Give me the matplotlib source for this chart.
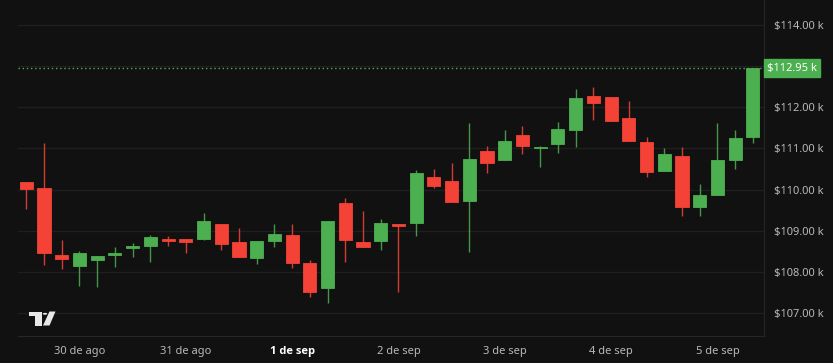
import numpy as np
import pandas as pd
import matplotlib
matplotlib.use("Agg")
import matplotlib.pyplot as plt
from matplotlib.patches import Rectangle, Polygon, Circle
import matplotlib.transforms as mtransforms

# velas de 4h, valores en miles de dólares
opens = [110.19, 110.05, 108.41, 108.15, 108.30, 108.41, 108.59, 108.64, 108.80, 108.80,
         108.80, 109.16, 108.73, 108.34, 108.76, 108.90, 108.21, 107.60, 109.67, 108.73,
         108.74, 109.16, 109.19, 110.31, 110.22, 109.72, 110.94, 110.73, 111.33, 111.01,
         111.11, 111.44, 112.27, 112.25, 111.74, 111.16, 110.46, 110.82, 109.58, 109.87,
         110.72, 111.28]
highs = [110.19, 111.14, 108.77, 108.51, 108.38, 108.60, 108.71, 108.89, 108.87, 108.80,
         109.43, 109.16, 109.07, 108.75, 109.16, 109.16, 108.30, 109.24, 109.79, 109.48,
         109.28, 109.16, 110.48, 110.50, 110.64, 111.62, 111.07, 111.46, 111.54, 111.06,
         111.64, 112.44, 112.49, 112.25, 112.16, 111.27, 111.01, 111.04, 110.14, 111.62,
         111.45, 112.95]
lows = [109.52, 108.17, 108.06, 107.66, 107.64, 108.12, 108.37, 108.23, 108.63, 108.45,
        108.77, 108.53, 108.36, 108.20, 108.61, 108.10, 107.38, 107.24, 108.24, 108.60,
        108.54, 107.51, 108.88, 110.05, 109.70, 108.49, 110.41, 110.73, 110.87, 110.55,
        110.89, 111.04, 111.70, 111.67, 111.18, 110.31, 110.46, 109.36, 109.36, 109.87,
        110.50, 111.14]
closes = [110.01, 108.45, 108.32, 108.47, 108.38, 108.47, 108.63, 108.85, 108.76, 108.73,
          109.24, 108.67, 108.36, 108.75, 108.93, 108.21, 107.51, 109.24, 108.78, 108.60,
          109.19, 109.12, 110.40, 110.09, 109.70, 110.74, 110.64, 111.18, 111.05, 111.04,
          111.48, 112.23, 112.11, 111.67, 111.18, 110.43, 110.87, 109.58, 109.87, 110.72,
          111.26, 112.95]
times = pd.date_range("2025-08-29 12:00", periods=len(opens), freq="4h")
day_labels = ["30 de ago", "31 de ago", "1 de sep", "2 de sep", "3 de sep", "4 de sep", "5 de sep"]
y_ticks = [107, 108, 109, 110, 111, 112, 114]

bg = "#111111"
green = "#4caf50"
red = "#f44336"
grid_c = "#1f1f1f"
text_c = "#b8b8b8"

W, H = 833, 363
fig = plt.figure(figsize=(W / 100, H / 100), dpi=100, facecolor=bg)
ax = fig.add_axes([18 / W, 1 - 336 / H, (764 - 18) / W, 336 / H])
ax.set_facecolor(bg)

x = np.arange(len(opens))
bw = 0.74
for i in x:
    o, h, l, c = opens[i], highs[i], lows[i], closes[i]
    col = green if c >= o else red
    ax.vlines(i, l, h, color=col, lw=1.0, alpha=0.85, zorder=2)
    lo = min(o, c)
    hgt = max(abs(c - o), 0.02)
    ax.add_patch(Rectangle((i - bw / 2, lo), bw, hgt, facecolor=col,
                           edgecolor=col, lw=0.6, zorder=3))

ax.set_xlim(-0.47, 41.63)
ax.set_ylim(106.44, 114.61)

for v in range(107, 115):
    ax.axhline(v, color=grid_c, lw=1, zorder=0)

# línea de precio actual
last = closes[-1]
ax.axhline(last, color=green, lw=1, linestyle=(0, (1, 2)), zorder=1)
trans = mtransforms.blended_transform_factory(ax.transAxes, ax.transData)
ax.text(1.0 + 3 / 746, last, f"${last:.2f} k", transform=trans, ha="left", va="center",
        color="white", fontsize=8, family="Noto Sans",
        bbox=dict(boxstyle="square,pad=0.3", facecolor=green, edgecolor=green))

ax.yaxis.tick_right()
ax.set_yticks(y_ticks)
ax.set_yticklabels([f"${v:.2f} k" for v in y_ticks])
ax.tick_params(axis="y", length=0, pad=7, labelsize=8, labelcolor=text_c)

tick_idx = [i for i, t in enumerate(times) if t.hour == 0]
ax.set_xticks(tick_idx)
ax.set_xticklabels(day_labels)
ax.tick_params(axis="x", length=0, pad=7, labelsize=8, labelcolor=text_c)
for lab in ax.get_xticklabels() + ax.get_yticklabels():
    lab.set_family("Noto Sans")
for lab in ax.get_xticklabels():
    if lab.get_text() == "1 de sep":
        lab.set_family("Open Sans")
        lab.set_fontweight("bold")
        lab.set_color("white")

for s in ["top", "left"]:
    ax.spines[s].set_visible(False)
ax.spines["bottom"].set_color("#262626")
ax.spines["right"].set_color("#262626")

# logo de TradingView
def px(xp, yp):
    return (xp / W, 1 - yp / H)

logo_c = "#e8e8e8"
fig.add_artist(Polygon([px(28.5, 311.5), px(41.5, 311.5), px(41.5, 325.5), px(35, 325.5),
                        px(35, 315.5), px(28.5, 315.5)], closed=True,
                       transform=fig.transFigure, facecolor=logo_c, edgecolor="none"))
fig.add_artist(Circle(px(45, 313.8), 2.2 / W, transform=fig.transFigure,
                      facecolor=logo_c, edgecolor="none"))
fig.add_artist(Polygon([px(49.5, 311.5), px(55.5, 311.5), px(49.5, 325.5), px(43, 325.5)],
                       closed=True, transform=fig.transFigure, facecolor=logo_c,
                       edgecolor="none"))

fig.savefig("out.png", dpi=100, facecolor=bg)
